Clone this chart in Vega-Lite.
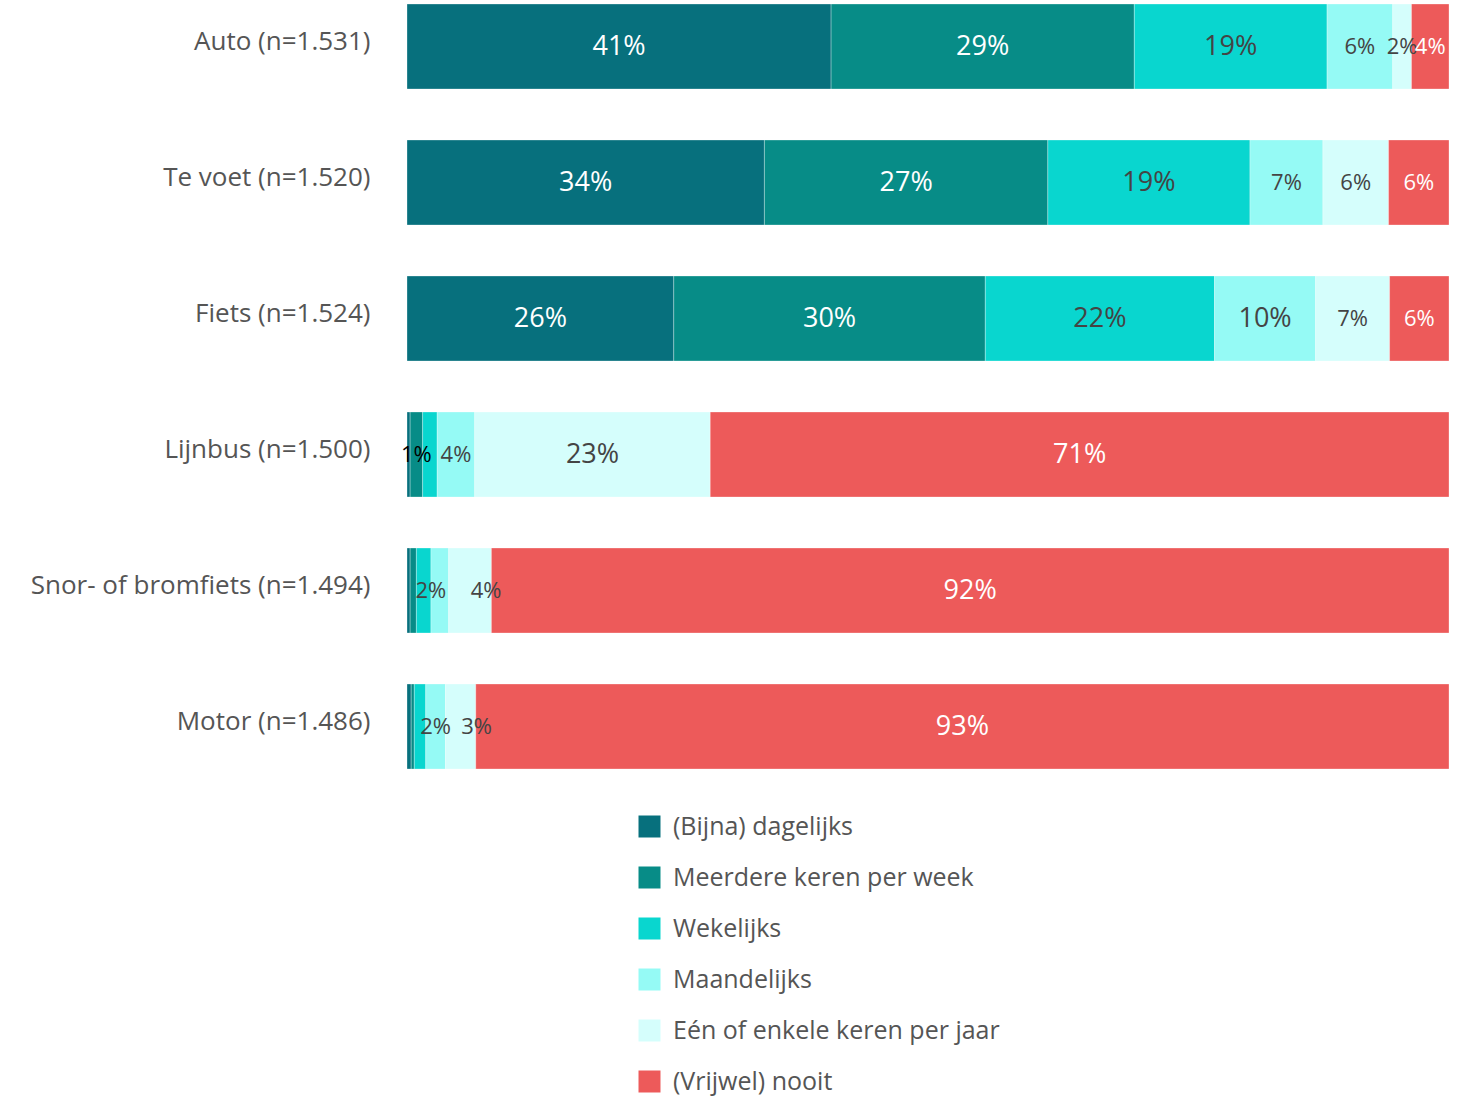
{
  "$schema": "https://vega.github.io/schema/vega-lite/v6.json",
  "autosize": {"type": "none"},
  "padding": {"left": 407, "top": 4, "right": 17, "bottom": 329},
  "width": 1042,
  "height": 765,
  "data": {
    "values": [
      {"mode": "Auto (n=1.531)", "cat": "(Bijna) dagelijks", "k": 1, "value": 40.7, "label": "41%"},
      {"mode": "Auto (n=1.531)", "cat": "Meerdere keren per week", "k": 2, "value": 29.1, "label": "29%"},
      {"mode": "Auto (n=1.531)", "cat": "Wekelijks", "k": 3, "value": 18.5, "label": "19%"},
      {"mode": "Auto (n=1.531)", "cat": "Maandelijks", "k": 4, "value": 6.3, "label": "6%"},
      {"mode": "Auto (n=1.531)", "cat": "Eén of enkele keren per jaar", "k": 5, "value": 1.8, "label": "2%"},
      {"mode": "Auto (n=1.531)", "cat": "(Vrijwel) nooit", "k": 6, "value": 3.6, "label": "4%"},
      {"mode": "Te voet (n=1.520)", "cat": "(Bijna) dagelijks", "k": 1, "value": 34.3, "label": "34%"},
      {"mode": "Te voet (n=1.520)", "cat": "Meerdere keren per week", "k": 2, "value": 27.2, "label": "27%"},
      {"mode": "Te voet (n=1.520)", "cat": "Wekelijks", "k": 3, "value": 19.4, "label": "19%"},
      {"mode": "Te voet (n=1.520)", "cat": "Maandelijks", "k": 4, "value": 7.0, "label": "7%"},
      {"mode": "Te voet (n=1.520)", "cat": "Eén of enkele keren per jaar", "k": 5, "value": 6.3, "label": "6%"},
      {"mode": "Te voet (n=1.520)", "cat": "(Vrijwel) nooit", "k": 6, "value": 5.8, "label": "6%"},
      {"mode": "Fiets (n=1.524)", "cat": "(Bijna) dagelijks", "k": 1, "value": 25.6, "label": "26%"},
      {"mode": "Fiets (n=1.524)", "cat": "Meerdere keren per week", "k": 2, "value": 29.9, "label": "30%"},
      {"mode": "Fiets (n=1.524)", "cat": "Wekelijks", "k": 3, "value": 22.0, "label": "22%"},
      {"mode": "Fiets (n=1.524)", "cat": "Maandelijks", "k": 4, "value": 9.7, "label": "10%"},
      {"mode": "Fiets (n=1.524)", "cat": "Eén of enkele keren per jaar", "k": 5, "value": 7.1, "label": "7%"},
      {"mode": "Fiets (n=1.524)", "cat": "(Vrijwel) nooit", "k": 6, "value": 5.7, "label": "6%"},
      {"mode": "Lijnbus (n=1.500)", "cat": "(Bijna) dagelijks", "k": 1, "value": 0.3, "label": ""},
      {"mode": "Lijnbus (n=1.500)", "cat": "Meerdere keren per week", "k": 2, "value": 1.2, "label": "1%"},
      {"mode": "Lijnbus (n=1.500)", "cat": "Wekelijks", "k": 3, "value": 1.4, "label": ""},
      {"mode": "Lijnbus (n=1.500)", "cat": "Maandelijks", "k": 4, "value": 3.6, "label": "4%"},
      {"mode": "Lijnbus (n=1.500)", "cat": "Eén of enkele keren per jaar", "k": 5, "value": 22.6, "label": "23%"},
      {"mode": "Lijnbus (n=1.500)", "cat": "(Vrijwel) nooit", "k": 6, "value": 70.9, "label": "71%"},
      {"mode": "Snor- of bromfiets (n=1.494)", "cat": "(Bijna) dagelijks", "k": 1, "value": 0.3, "label": ""},
      {"mode": "Snor- of bromfiets (n=1.494)", "cat": "Meerdere keren per week", "k": 2, "value": 0.6, "label": ""},
      {"mode": "Snor- of bromfiets (n=1.494)", "cat": "Wekelijks", "k": 3, "value": 1.4, "label": ""},
      {"mode": "Snor- of bromfiets (n=1.494)", "cat": "Maandelijks", "k": 4, "value": 1.7, "label": "2%"},
      {"mode": "Snor- of bromfiets (n=1.494)", "cat": "Eén of enkele keren per jaar", "k": 5, "value": 4.1, "label": "4%"},
      {"mode": "Snor- of bromfiets (n=1.494)", "cat": "(Vrijwel) nooit", "k": 6, "value": 91.9, "label": "92%"},
      {"mode": "Motor (n=1.486)", "cat": "(Bijna) dagelijks", "k": 1, "value": 0.4, "label": ""},
      {"mode": "Motor (n=1.486)", "cat": "Meerdere keren per week", "k": 2, "value": 0.3, "label": ""},
      {"mode": "Motor (n=1.486)", "cat": "Wekelijks", "k": 3, "value": 1.1, "label": ""},
      {"mode": "Motor (n=1.486)", "cat": "Maandelijks", "k": 4, "value": 1.9, "label": "2%"},
      {"mode": "Motor (n=1.486)", "cat": "Eén of enkele keren per jaar", "k": 5, "value": 2.9, "label": "3%"},
      {"mode": "Motor (n=1.486)", "cat": "(Vrijwel) nooit", "k": 6, "value": 93.4, "label": "93%"}
    ]
  },
  "encoding": {
    "y": {
      "field": "mode",
      "type": "nominal",
      "sort": null,
      "title": null,
      "scale": {"paddingInner": 0.375, "paddingOuter": 0},
      "axis": {
        "domain": false,
        "ticks": false,
        "labelFont": "Open Sans",
        "labelFontSize": 26,
        "labelColor": "#555555",
        "labelPadding": 37,
        "labelOffset": -5,
        "labelLimit": 500
      }
    },
    "x": {
      "field": "value",
      "type": "quantitative",
      "stack": "zero",
      "scale": {"domain": [0, 100], "nice": false},
      "axis": null
    },
    "order": {"field": "k", "type": "quantitative"}
  },
  "layer": [
    {
      "mark": {"type": "bar", "stroke": "white", "strokeWidth": 0.6, "strokeOpacity": 0.5},
      "encoding": {
        "color": {
          "field": "cat",
          "type": "nominal",
          "title": null,
          "scale": {
            "domain": ["(Bijna) dagelijks", "Meerdere keren per week", "Wekelijks", "Maandelijks", "Eén of enkele keren per jaar", "(Vrijwel) nooit"],
            "range": ["#07707d", "#078c87", "#09d6cf", "#95faf5", "#d5fefc", "#ed5a5a"]
          },
          "legend": {
            "orient": "none",
            "legendX": 230,
            "legendY": 810,
            "direction": "vertical",
            "symbolType": "square",
            "symbolSize": 484,
            "symbolStrokeWidth": 0,
            "symbolOpacity": 1,
            "labelFont": "Open Sans",
            "labelFontSize": 25,
            "labelColor": "#555555",
            "labelOffset": 11,
            "rowPadding": 25,
            "labelLimit": 600
          }
        }
      }
    },
    {
      "mark": {"type": "text", "font": "Open Sans", "baseline": "middle", "align": "center"},
      "encoding": {
        "x": {"field": "value", "type": "quantitative", "stack": "zero", "bandPosition": 0.5},
        "text": {
          "condition": {"test": "!(datum.k === 5 && datum.value > 2.5 && datum.value < 5) && !(datum.k === 4 && datum.value < 1.8)", "field": "label"},
          "value": ""
        },
        "size": {"condition": {"test": "datum.value >= 9", "value": 27}, "value": 22},
        "color": {
          "condition": [
            {"test": "(datum.k === 1 || datum.k === 2 || datum.k === 6) && datum.value >= 2", "value": "white"},
            {"test": "datum.value < 1.5", "value": "black"}
          ],
          "value": "#444444"
        }
      }
    },
    {
      "mark": {"type": "text", "font": "Open Sans", "baseline": "middle", "align": "center", "dx": 16, "fontSize": 22, "color": "#444444"},
      "encoding": {
        "x": {"field": "value", "type": "quantitative", "stack": "zero", "bandPosition": 0.5},
        "text": {
          "condition": {"test": "datum.k === 5 && datum.value > 2.5 && datum.value < 5", "field": "label"},
          "value": ""
        }
      }
    },
    {
      "mark": {"type": "text", "font": "Open Sans", "baseline": "middle", "align": "center", "dx": -9, "fontSize": 22, "color": "#444444"},
      "encoding": {
        "x": {"field": "value", "type": "quantitative", "stack": "zero", "bandPosition": 0.5},
        "text": {
          "condition": {"test": "datum.k === 4 && datum.value < 1.8", "field": "label"},
          "value": ""
        }
      }
    }
  ],
  "config": {"view": {"stroke": null}}
}
